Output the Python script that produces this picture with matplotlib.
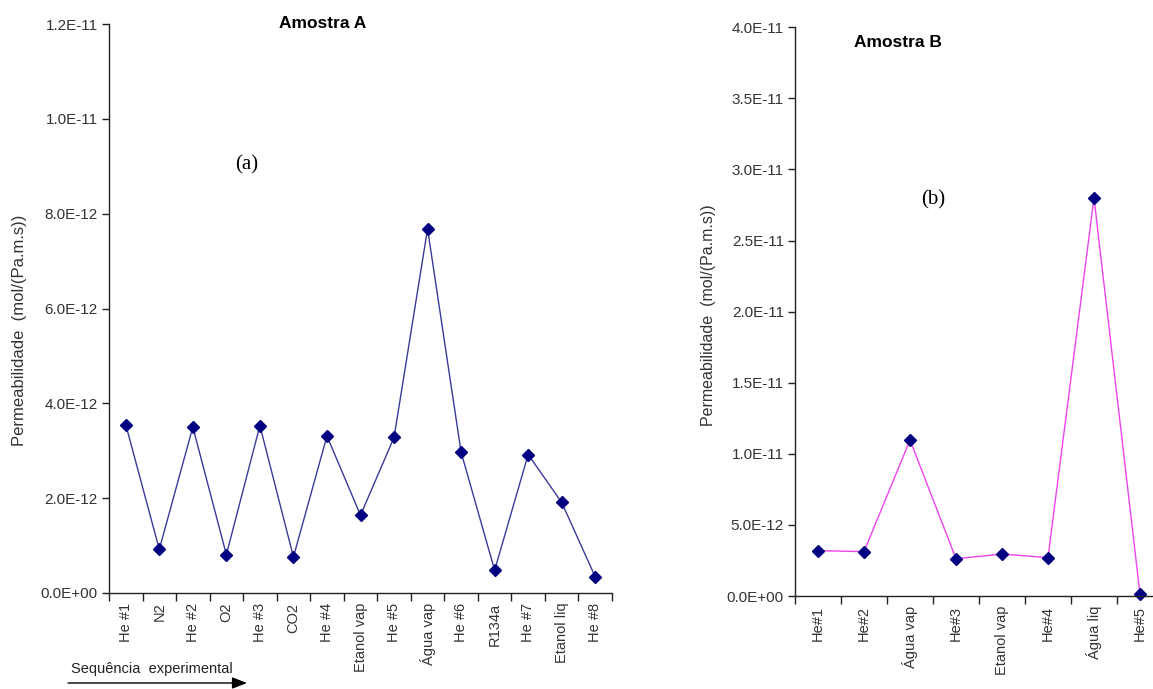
import matplotlib
matplotlib.use("Agg")
import matplotlib.pyplot as plt
from matplotlib.ticker import FuncFormatter, FixedLocator

plt.rcParams['font.family'] = ['Liberation Sans', 'DejaVu Sans']

# Sample A
cats_a = ["He #1", "N2", "He #2", "O2", "He #3", "CO2", "He #4", "Etanol vap",
          "He #5", "Água vap", "He #6", "R134a", "He #7", "Etanol liq", "He #8"]
perm_a = [3.55e-12, 0.92e-12, 3.50e-12, 0.81e-12, 3.53e-12, 0.76e-12, 3.31e-12,
          1.64e-12, 3.28e-12, 7.68e-12, 2.97e-12, 0.48e-12, 2.92e-12, 1.91e-12, 0.34e-12]
yticks_a = [0, 2e-12, 4e-12, 6e-12, 8e-12, 1.0e-11, 1.2e-11]

# Sample B
cats_b = ["He#1", "He#2", "Água vap", "He#3", "Etanol vap", "He#4", "Água liq", "He#5"]
perm_b = [3.19e-12, 3.12e-12, 10.97e-12, 2.62e-12, 2.95e-12, 2.70e-12, 28.0e-12, 0.12e-12]
yticks_b = [0, 5e-12, 1.0e-11, 1.5e-11, 2.0e-11, 2.5e-11, 3.0e-11, 3.5e-11, 4.0e-11]

W, H = 1153, 689
fig = plt.figure(figsize=(W / 100, H / 100), dpi=100)
fig.patch.set_facecolor("white")

fmt = FuncFormatter(lambda v, p: "{:.1E}".format(v))
ylabel = "Permeabilidade  (mol/(Pa.m.s))"
XTICK_FS = 10.5
YTICK_FS = 11


def make_axes(x0, x1, y0, y1):
    return fig.add_axes([x0 / W, (H - y1) / H, (x1 - x0) / W, (y1 - y0) / H])


def style(ax, cats, yticks, ymax):
    n = len(cats)
    ax.set_xlim(-0.5, n - 0.5)
    ax.set_ylim(0, ymax)
    for s in ("top", "right"):
        ax.spines[s].set_visible(False)
    for s in ("left", "bottom"):
        ax.spines[s].set_color("#222222")
        ax.spines[s].set_linewidth(1.0)
    ax.set_yticks(yticks)
    ax.yaxis.set_major_formatter(fmt)
    ax.tick_params(axis="y", direction="out", length=5, width=1, colors="#222222",
                   labelsize=YTICK_FS, labelcolor="#333333", pad=3)
    ax.set_xticks(range(n))
    ax.set_xticklabels(cats, rotation=90, fontsize=XTICK_FS, color="#333333")
    ax.tick_params(axis="x", which="major", length=0, pad=7)
    ax.xaxis.set_minor_locator(FixedLocator([i - 0.5 for i in range(n + 1)]))
    ax.tick_params(axis="x", which="minor", direction="out", length=6, width=1,
                   colors="#222222")
    ax.set_facecolor("none")


# Panel A
ax_a = make_axes(109, 612, 24, 593)
ax_a.plot(range(len(cats_a)), perm_a, color="#3a3a9a", lw=1.0, marker="D",
          ms=6.5, mfc="#000080", mec="#000080", clip_on=False)
style(ax_a, cats_a, yticks_a, 1.2e-11)
ax_a.text(0.425, 1.0, "Amostra A", transform=ax_a.transAxes, ha="center", va="center",
          fontsize=12.5, fontweight="bold")
ax_a.text(0.273, 0.752, "(a)", transform=ax_a.transAxes, ha="center", va="center",
          fontsize=15, family="Liberation Serif")
fig.text(20 / W, 1 - 330 / H, ylabel, rotation=90, ha="center", va="center",
         fontsize=12, color="#333333")

# Sequence arrow
fig.text(152 / W, 1 - 669 / H, "Sequência  experimental", ha="center", va="center",
         fontsize=10.5, color="#222222")
fig.add_artist(matplotlib.patches.FancyArrowPatch(
    (68 / W, 1 - 683 / H), (247 / W, 1 - 683 / H), transform=fig.transFigure,
    arrowstyle="-|>,head_length=9,head_width=3.5", color="black", lw=1.0,
    shrinkA=0, shrinkB=0))

# Panel B
ax_b = make_axes(795, 1163, 27.3, 596)
ax_b.plot(range(len(cats_b)), perm_b, color="#ee44ee", lw=1.0, marker="D",
          ms=6.5, mfc="#000080", mec="#000080", clip_on=False)
style(ax_b, cats_b, yticks_b, 4.0e-11)
ax_b.text(0.28, 0.974, "Amostra B", transform=ax_b.transAxes, ha="center", va="center",
          fontsize=12.5, fontweight="bold")
ax_b.text(0.375, 0.697, "(b)", transform=ax_b.transAxes, ha="center", va="center",
          fontsize=15, family="Liberation Serif")
fig.text(708 / W, 1 - 315 / H, ylabel, rotation=90, ha="center", va="center",
         fontsize=11.5, color="#333333")

fig.savefig("out.png", dpi=100, facecolor="white")
